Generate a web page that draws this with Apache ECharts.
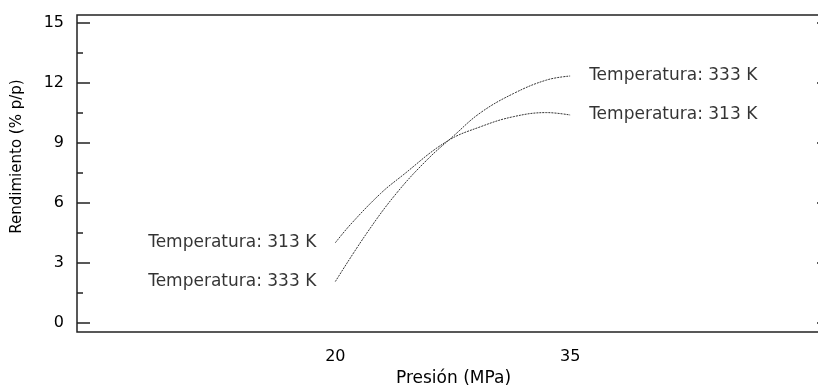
<!DOCTYPE html>
<html>
<head>
<meta charset="utf-8">
<script src="https://cdn.jsdelivr.net/npm/echarts@6/dist/echarts.min.js"></script>
<style>
  html, body { margin: 0; padding: 0; background: #fff; }
  #chart { width: 818px; height: 385px; }
</style>
</head>
<body>
<div id="chart"></div>
<script>
// values
const pressure313 = [20, 21, 22.9, 24.2, 27.1, 29.3, 31.4, 33.5, 35];
const yield313 = [4.01, 4.95, 6.48, 7.32, 9.07, 9.82, 10.32, 10.52, 10.4];
const pressure333 = [20, 22, 23.9, 25.85, 27.55, 29.25, 31.4, 33.5, 35];
const yield333 = [2.07, 4.48, 6.48, 8.15, 9.35, 10.5, 11.48, 12.15, 12.35];
const xTicks = [20, 35];
const yTicks = [0, 3, 6, 9, 12, 15];
const yMinorTicks = [1.5, 4.5, 7.5, 10.5, 13.5];
const label313 = "Temperatura: 313 K";
const label333 = "Temperatura: 333 K";

const font = "DejaVu Sans, sans-serif";
const pairs = (xs, ys) => xs.map((x, i) => [x, ys[i]]);
const last = (a) => a[a.length - 1];

const chart = echarts.init(document.getElementById("chart"));

const yBase = {
  type: "value",
  min: -0.45,
  max: 15.4,
  axisLine: { show: false },
  splitLine: { show: false },
};
const tickLine = { color: "#222", width: 1.5 };

const option = {
  animation: false,
  textStyle: { fontFamily: font, color: "#000" },
  grid: {
    left: 77,
    top: 15,
    right: -12, // right border sits just off the canvas, like the reference
    bottom: 53,
    outerBoundsMode: "none",
    show: true,
    borderColor: "#222",
    borderWidth: 1.5,
  },
  xAxis: {
    type: "value",
    min: 3.5,
    max: 51.6,
    axisLine: { show: false },
    axisTick: { show: false },
    splitLine: { show: false },
    axisLabel: {
      customValues: xTicks,
      fontSize: 16,
      color: "#000",
      fontFamily: font,
      margin: 17,
    },
    name: "Presión (MPa)",
    nameLocation: "middle",
    nameGap: 35,
    nameTextStyle: { fontSize: 17, color: "#000", fontFamily: font },
  },
  yAxis: [
    {
      ...yBase,
      position: "left",
      axisTick: { show: true, inside: true, length: 13, customValues: yTicks, lineStyle: tickLine },
      axisLabel: { customValues: yTicks, fontSize: 16, color: "#000", fontFamily: font, margin: 13 },
      name: "Rendimiento (% p/p)",
      nameLocation: "middle",
      nameGap: 52,
      nameTextStyle: { fontSize: 15, color: "#000", fontFamily: font, padding: [0, 0, 0, 34] },
    },
    {
      ...yBase,
      position: "left",
      axisTick: { show: true, inside: true, length: 6, customValues: yMinorTicks, lineStyle: tickLine },
      axisLabel: { show: false },
    },
    {
      ...yBase,
      position: "right",
      axisTick: { show: true, inside: true, length: 13, customValues: yTicks, lineStyle: tickLine },
      axisLabel: { show: false },
    },
  ],
  series: [
    {
      name: "313 K",
      type: "line",
      smooth: 0.4,
      showSymbol: false,
      data: pairs(pressure313, yield313),
      lineStyle: { color: "#333", width: 1, type: [2, 1] },
    },
    {
      name: "333 K",
      type: "line",
      smooth: 0.4,
      showSymbol: false,
      data: pairs(pressure333, yield333),
      lineStyle: { color: "#333", width: 1, type: [2, 1] },
    },
    {
      type: "scatter",
      symbolSize: 0,
      silent: true,
      label: { show: true, fontSize: 17, color: "#000", fontFamily: font },
      data: [
        { value: [pressure313[0], yield313[0]], label: { position: "left", distance: 19, formatter: label313 } },
        { value: [pressure333[0], yield333[0]], label: { position: "left", distance: 19, formatter: label333 } },
        { value: [last(pressure313), last(yield313)], label: { position: "right", distance: 19, formatter: label313 } },
        { value: [last(pressure333), last(yield333)], label: { position: "right", distance: 19, formatter: label333 } },
      ],
    },
  ],
};

chart.setOption(option);
</script>
</body>
</html>
